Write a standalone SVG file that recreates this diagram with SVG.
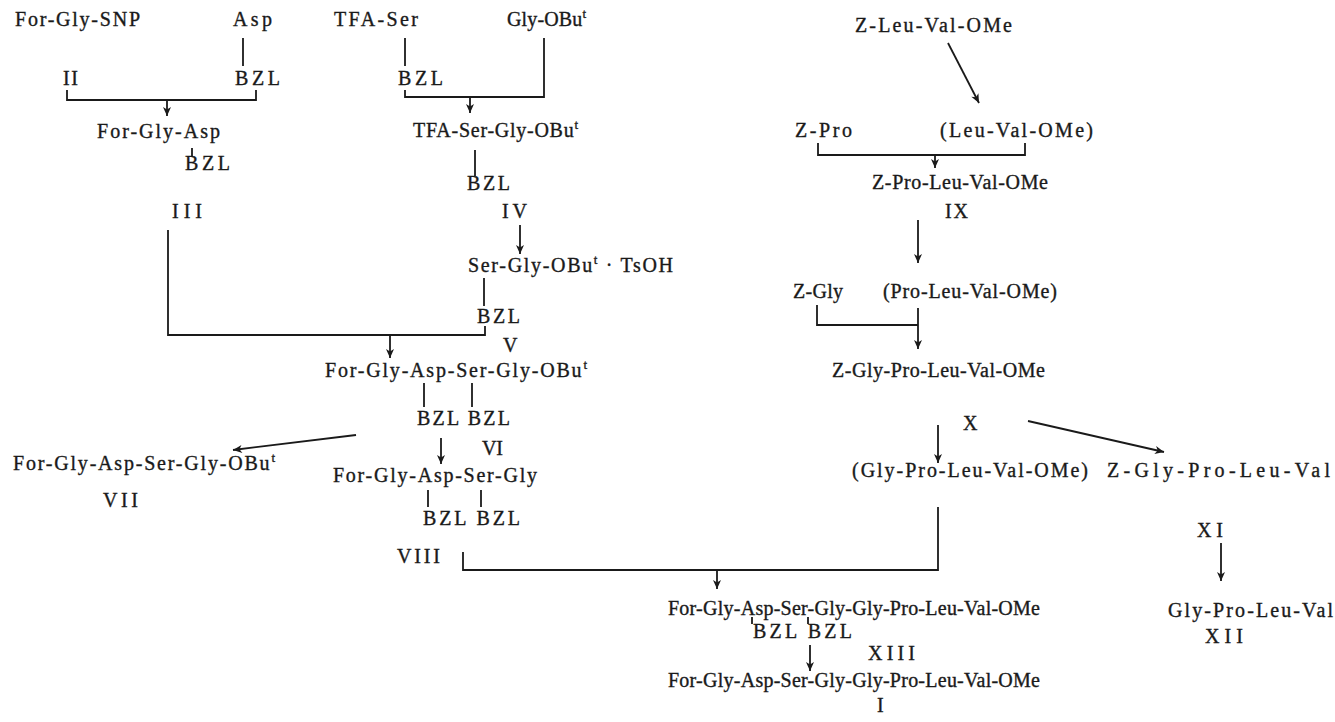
<svg xmlns="http://www.w3.org/2000/svg" width="1335" height="722" viewBox="0 0 1335 722">
<style>
  text { font-family: "Liberation Serif", "Times New Roman", serif; font-size: 20px; fill: #1a1a1a; stroke: #1a1a1a; stroke-width: 0.35; }
  .sup { font-size: 13px; }
  .ln { fill: none; stroke: #1a1a1a; stroke-width: 1.8; }
  .ar { fill: none; stroke: #1a1a1a; stroke-width: 1.8; marker-end: url(#ah); }
</style>
<defs>
  <marker id="ah" markerUnits="userSpaceOnUse" markerWidth="12" markerHeight="10" refX="10" refY="5" orient="auto">
    <path d="M1,1 L10,5 L1,9 L3.5,5 Z" fill="#1a1a1a"/>
  </marker>
</defs>
<rect width="1335" height="722" fill="#ffffff"/>

<g id="connectors">
  <line class="ln" x1="243" y1="38" x2="243" y2="66"/>
  <path class="ln" d="M67,90 V100 H256 V90"/>
  <line class="ar" x1="167" y1="100" x2="167" y2="116"/>
  <line class="ln" x1="192" y1="148" x2="192" y2="157"/>
  <line class="ln" x1="405" y1="38" x2="405" y2="66"/>
  <path class="ln" d="M405,90 V97 H544 V38"/>
  <line class="ar" x1="470" y1="97" x2="470" y2="113"/>
  <line class="ln" x1="475" y1="150" x2="475" y2="176"/>
  <path class="ln" d="M168,230 V335 H485 V326"/>
  <line class="ar" x1="390" y1="335" x2="390" y2="358"/>
  <line class="ar" x1="520" y1="225" x2="520" y2="254"/>
  <line class="ln" x1="484" y1="278" x2="484" y2="306"/>
  <line class="ln" x1="424" y1="383" x2="424" y2="407"/>
  <line class="ln" x1="472" y1="383" x2="472" y2="407"/>
  <line class="ar" x1="356" y1="435" x2="233" y2="450"/>
  <line class="ar" x1="441" y1="438" x2="441" y2="464"/>
  <line class="ln" x1="428" y1="490" x2="428" y2="507"/>
  <line class="ln" x1="481" y1="490" x2="481" y2="507"/>
  <path class="ln" d="M463,552 V570 H938 V507"/>
  <line class="ar" x1="717" y1="570" x2="717" y2="589"/>
  <line class="ar" x1="948" y1="43" x2="979" y2="103"/>
  <path class="ln" d="M818,143 V155 H1025 V143"/>
  <line class="ar" x1="935" y1="155" x2="935" y2="168"/>
  <line class="ar" x1="918" y1="220" x2="918" y2="263"/>
  <path class="ln" d="M817,305 V325 H918"/>
  <line class="ar" x1="918" y1="308" x2="918" y2="349"/>
  <line class="ar" x1="938" y1="425" x2="938" y2="463"/>
  <line class="ar" x1="1028" y1="421" x2="1164" y2="452"/>
  <line class="ar" x1="1221" y1="543" x2="1221" y2="581"/>
  <line class="ln" x1="752" y1="617" x2="752" y2="624"/>
  <line class="ln" x1="808" y1="617" x2="808" y2="624"/>
  <line class="ar" x1="810" y1="645" x2="810" y2="671"/>
</g>

<g id="n-for-gly-snp"><text x="15" y="26" textLength="125" lengthAdjust="spacing">For-Gly-SNP</text><text x="63" y="85" textLength="15" lengthAdjust="spacing">II</text></g>
<g id="n-asp"><text x="233" y="26" textLength="39" lengthAdjust="spacing">Asp</text><text x="235" y="85" textLength="45" lengthAdjust="spacing">BZL</text></g>
<g id="n-III"><text x="97" y="138" textLength="123" lengthAdjust="spacing">For-Gly-Asp</text><text x="185" y="170" textLength="45" lengthAdjust="spacing">BZL</text><text x="172" y="218" textLength="30" lengthAdjust="spacing">III</text></g>
<g id="n-tfa-ser"><text x="334" y="26" textLength="84" lengthAdjust="spacing">TFA-Ser</text><text x="398" y="85" textLength="45" lengthAdjust="spacing">BZL</text></g>
<g id="n-gly-obut"><text x="507" y="26" textLength="79" lengthAdjust="spacing">Gly-OBu<tspan class="sup" dy="-8">t</tspan></text></g>
<g id="n-IV"><text x="413" y="137" textLength="165" lengthAdjust="spacing">TFA-Ser-Gly-OBu<tspan class="sup" dy="-8">t</tspan></text><text x="467" y="190" textLength="43" lengthAdjust="spacing">BZL</text><text x="502" y="218" textLength="25" lengthAdjust="spacing">IV</text></g>
<g id="n-V"><text x="468" y="272" textLength="205" lengthAdjust="spacing">Ser-Gly-OBu<tspan class="sup" dy="-8">t</tspan><tspan dy="8"> · TsOH</tspan></text><text x="477" y="323" textLength="43" lengthAdjust="spacing">BZL</text><text x="503" y="352" textLength="14" lengthAdjust="spacing">V</text></g>
<g id="n-VI"><text x="325" y="377" textLength="262" lengthAdjust="spacing">For-Gly-Asp-Ser-Gly-OBu<tspan class="sup" dy="-8">t</tspan></text><text x="417" y="425" textLength="93" lengthAdjust="spacing">BZL BZL</text><text x="482" y="455" textLength="21" lengthAdjust="spacing">VI</text></g>
<g id="n-VII"><text x="13" y="470" textLength="262" lengthAdjust="spacing">For-Gly-Asp-Ser-Gly-OBu<tspan class="sup" dy="-8">t</tspan></text><text x="103" y="507" textLength="35" lengthAdjust="spacing">VII</text></g>
<g id="n-VIII"><text x="333" y="482" textLength="204" lengthAdjust="spacing">For-Gly-Asp-Ser-Gly</text><text x="423" y="525" textLength="97" lengthAdjust="spacing">BZL BZL</text><text x="397" y="563" textLength="43" lengthAdjust="spacing">VIII</text></g>
<g id="n-z-leu-val-ome"><text x="855" y="32" textLength="157" lengthAdjust="spacing">Z-Leu-Val-OMe</text></g>
<g id="n-z-pro"><text x="795" y="137" textLength="57" lengthAdjust="spacing">Z-Pro</text></g>
<g id="n-leu-val-ome"><text x="940" y="137" textLength="153" lengthAdjust="spacing">(Leu-Val-OMe)</text></g>
<g id="n-IX"><text x="872" y="189" textLength="176" lengthAdjust="spacing">Z-Pro-Leu-Val-OMe</text><text x="945" y="218" textLength="23" lengthAdjust="spacing">IX</text></g>
<g id="n-z-gly"><text x="793" y="298" textLength="50" lengthAdjust="spacing">Z-Gly</text></g>
<g id="n-pro-leu-val-ome"><text x="883" y="298" textLength="174" lengthAdjust="spacing">(Pro-Leu-Val-OMe)</text></g>
<g id="n-X"><text x="832" y="377" textLength="213" lengthAdjust="spacing">Z-Gly-Pro-Leu-Val-OMe</text><text x="963" y="430" textLength="15" lengthAdjust="spacing">X</text></g>
<g id="n-gly-pro-leu-val-ome"><text x="852" y="477" textLength="236" lengthAdjust="spacing">(Gly-Pro-Leu-Val-OMe)</text></g>
<g id="n-XI"><text x="1107" y="477" textLength="223" lengthAdjust="spacing">Z-Gly-Pro-Leu-Val</text><text x="1197" y="537" textLength="26" lengthAdjust="spacing">XI</text></g>
<g id="n-XII"><text x="1168" y="617" textLength="165" lengthAdjust="spacing">Gly-Pro-Leu-Val</text><text x="1205" y="643" textLength="38" lengthAdjust="spacing">XII</text></g>
<g id="n-XIII"><text x="668" y="615" textLength="372" lengthAdjust="spacing">For-Gly-Asp-Ser-Gly-Gly-Pro-Leu-Val-OMe</text><text x="753" y="638" textLength="99" lengthAdjust="spacing">BZL BZL</text><text x="868" y="660" textLength="47" lengthAdjust="spacing">XIII</text></g>
<g id="n-I"><text x="668" y="687" textLength="372" lengthAdjust="spacing">For-Gly-Asp-Ser-Gly-Gly-Pro-Leu-Val-OMe</text><text x="877" y="712" textLength="7" lengthAdjust="spacing">I</text></g>
</svg>
